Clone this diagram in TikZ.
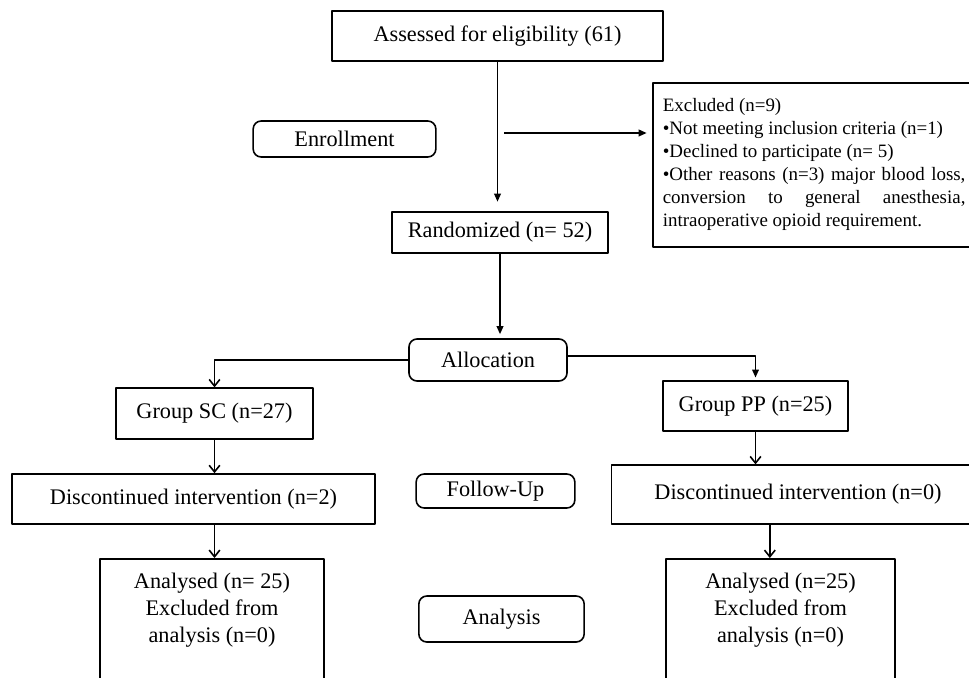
\documentclass[tikz,border=0pt]{standalone}
\usepackage{fontspec}
\setmainfont{Liberation Serif}
\usetikzlibrary{arrows.meta}

\begin{document}
\begin{tikzpicture}[x=0.75pt, y=-0.75pt, line width=1.2pt, line join=round, >={Triangle[length=6pt,width=5pt]}]
	\tikzset{box/.style={draw, fill=white, inner sep=0pt, align=center, font=\fontsize{16.7}{20.25}\selectfont},
		stage/.style={box, rounded corners=6pt},
		open/.style={-{Straight Barb[length=5pt,width=8pt]}}}
	%Khung hình
	\useasboundingbox (0,0) rectangle (969,677);
	\clip (0,0) rectangle (969,677);
	%Các giai đoạn
	\node[stage, minimum width=137pt, minimum height=27pt] (enroll) at (344.5,139) {Enrollment};
	\node[stage, minimum width=118.5pt, minimum height=31.5pt] (alloc) at (488,360) {Allocation};
	\node[stage, minimum width=119pt, minimum height=25.5pt] (follow) at (495.5,491) {Follow-Up};
	\node[stage, minimum width=124pt, minimum height=34.5pt] (analys) at (501.5,619) {Analysis};
	%Các hộp
	\node[box, minimum width=248pt, minimum height=37.5pt] (assess) at (497.5,36) {Assessed for eligibility (61)};
	\node[box, minimum width=162pt, minimum height=31pt] (rand) at (500,232.5) {Randomized (n= 52)};
	\node[draw, anchor=north west, minimum height=123pt, text width=227pt, inner xsep=7.5pt, inner ysep=0pt,
		align=justify, font=\fontsize{14.2}{17.25}\selectfont] (excl) at (652,82)
		{\parindent=0pt Excluded (n=9)\par
		•Not meeting inclusion criteria (n=1)\par
		•Declined to participate (n= 5)\par
		•Other reasons (n=3) major blood loss,\linebreak conversion to general anesthesia,\linebreak intraoperative opioid requirement.};
	\node[box, minimum width=148pt, minimum height=38pt] (sc) at (214.5,413.5) {Group SC (n=27)};
	\node[box, minimum width=139pt, minimum height=37.5pt] (pp) at (755.5,406) {Group PP (n=25)};
	\node[box, minimum width=272pt, minimum height=37.5pt] (discsc) at (193.5,499) {Discontinued intervention (n=2)};
	\node[box, minimum width=280pt, minimum height=44pt] (discpp) at (798,494.5) {Discontinued intervention (n=0)};
	\node[box, anchor=north, minimum width=168pt, inner ysep=11pt, text depth=110pt] (anasc) at (212,558)
		{Analysed (n= 25)\\ Excluded from\\ analysis (n=0)};
	\node[box, anchor=north, minimum width=172pt, inner ysep=11pt, text depth=110pt] (anapp) at (780.5,558)
		{Analysed (n=25)\\ Excluded from\\ analysis (n=0)};
	%Mũi tên
	\coordinate (split) at (504,133);
	\draw[->, shorten >=7pt] (assess) -- (assess |- rand.north);
	\draw[->, shorten >=4pt] (split) -- (split -| excl.west);
	\draw[->, shorten >=3pt] (rand) -- (rand |- alloc.north);
	\draw[open] (alloc.west) -| (sc.north);
	\draw[->, shorten >=2pt] ([yshift=3pt]alloc.east) -| (pp.north);
	\draw[open] (sc) -- (sc |- discsc.north);
	\draw[open] (sc |- discsc.south) -- (sc |- anasc.north);
	\draw[open] (pp) -- (pp |- discpp.north);
	\draw[open] ([xshift=-8pt]anapp.north |- discpp.south) -- ([xshift=-8pt]anapp.north);
\end{tikzpicture}
\end{document}
